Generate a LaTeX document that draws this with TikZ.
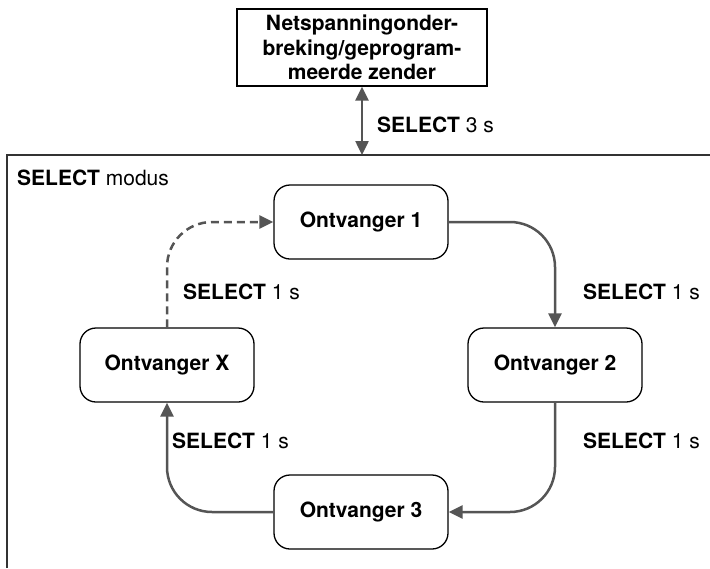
\documentclass[tikz,border=0pt]{standalone}
\usepackage{fontspec}
\setmainfont{TeX Gyre Heros}
\usetikzlibrary{arrows.meta}
\definecolor{conncol}{HTML}{555555}
\definecolor{framecol}{HTML}{333333}
\begin{document}
\begin{tikzpicture}[x=1pt,y=-1pt,
  every node/.style={font=\fontsize{21}{24.5}\selectfont},
  rx/.style={draw=black, line width=1.3pt, rounded corners=16pt, minimum width=174pt, minimum height=74pt, inner sep=0pt, font=\fontsize{21}{24.5}\selectfont\bfseries},
  srcbox/.style={draw=black, line width=1.3pt, minimum width=250pt, minimum height=77pt, inner sep=0pt, align=center, font=\fontsize{21}{24.5}\selectfont\bfseries},
  conn/.style={draw=conncol, line width=2.5pt, rounded corners=45pt, -{Triangle[length=14pt,width=13pt]}},
  lbl/.style={anchor=west, inner sep=0pt}]
\useasboundingbox (0,0) rectangle (710,568);
% frame
\coordinate (fbl) at (7,568);
\coordinate (ftl) at (7,155);
\coordinate (ftr) at (710,155);
\draw[framecol, line width=1.5pt] (fbl) -- (ftl) -- (ftr);
\node[lbl] (mode) at (17,178) {\textbf{SELECT} modus};
% source box
\node[srcbox] (src) at (362,47.5) {Netspanningonder-\\breking/geprogram-\\meerde zender};
\coordinate (ftop) at (src.south |- ftr);
\draw[draw=conncol, line width=2.5pt, {Triangle[length=14pt,width=13pt]}-{Triangle[length=14pt,width=13pt]}] (src.south) -- (ftop);
\node[lbl] (l0) at (377,125) {\textbf{SELECT} 3 s};
% receivers
\node[rx] (o1) at (361,222) {Ontvanger 1};
\node[rx] (o2) at (555,365) {Ontvanger 2};
\node[rx] (o3) at (361,512) {Ontvanger 3};
\node[rx] (ox) at (167,365) {Ontvanger X};
% connectors
\draw[conn] (o1.east) -| (o2.north);
\draw[conn] (o2.south) |- (o3.east);
\draw[conn] (o3.west) -| (ox.south);
\draw[conn, dash pattern=on 8pt off 5pt] (ox.north) |- (o1.west);
% labels
\node[lbl] (l1) at (583,292) {\textbf{SELECT} 1 s};
\node[lbl] (l2) at (183,292) {\textbf{SELECT} 1 s};
\node[lbl] (l3) at (172,441) {\textbf{SELECT} 1 s};
\node[lbl] (l4) at (583,441) {\textbf{SELECT} 1 s};
\end{tikzpicture}
\end{document}
